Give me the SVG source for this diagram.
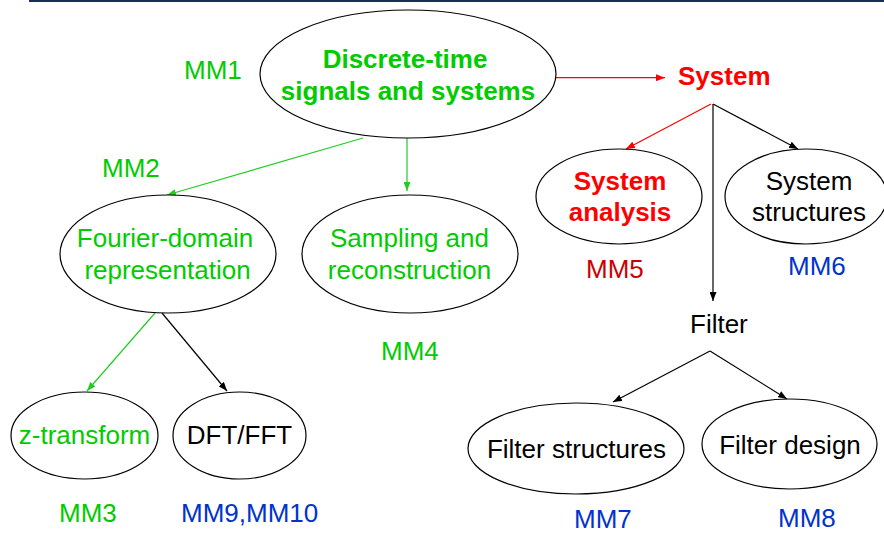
<svg xmlns="http://www.w3.org/2000/svg" width="884" height="535" viewBox="0 0 884 535">
<defs>
<style>
text{font-family:"Liberation Sans",Arial,sans-serif;font-size:26px}
.b{font-weight:bold}
.m{text-anchor:middle}
.g{fill:#00cc00}
.r{fill:#ff0000}
.dr{fill:#cc0000}
.bl{fill:#0033cc}
.k{fill:#000}
ellipse{fill:#fff;stroke:#000;stroke-width:1.2}
.cg{stroke:#22cc22;stroke-width:1.2;fill:none}
.cr{stroke:#ff0000;stroke-width:1.2;fill:none}
.ck{stroke:#000;stroke-width:1.2;fill:none}
</style>
<marker id="ag" markerUnits="userSpaceOnUse" markerWidth="9" markerHeight="7" refX="9" refY="3.5" orient="auto"><path d="M0,0 L9,3.5 L0,7 z" fill="#22cc22"/></marker>
<marker id="ar" markerUnits="userSpaceOnUse" markerWidth="9" markerHeight="7" refX="9" refY="3.5" orient="auto"><path d="M0,0 L9,3.5 L0,7 z" fill="#ff0000"/></marker>
<marker id="ak" markerUnits="userSpaceOnUse" markerWidth="9" markerHeight="7" refX="9" refY="3.5" orient="auto"><path d="M0,0 L9,3.5 L0,7 z" fill="#000"/></marker>
</defs>
<rect width="884" height="535" fill="#fff"/>
<line x1="29" y1="1" x2="884" y2="1" stroke="#1c2a5c" stroke-width="2"/>

<g id="connectors">
<line class="cr" x1="555" y1="77.7" x2="665" y2="77.7" marker-end="url(#ar)"/>
<line class="cg" x1="363" y1="138" x2="167" y2="195" marker-end="url(#ag)"/>
<line class="cg" x1="407" y1="138" x2="407" y2="191" marker-end="url(#ag)"/>
<line class="cg" x1="155" y1="313" x2="87" y2="391" marker-end="url(#ag)"/>
<line class="ck" x1="162" y1="313" x2="227" y2="391" marker-end="url(#ak)"/>
<line class="cr" x1="711" y1="104" x2="626" y2="149" marker-end="url(#ar)"/>
<line class="ck" x1="713" y1="104" x2="798" y2="149" marker-end="url(#ak)"/>
<line class="ck" x1="713" y1="104" x2="713" y2="301" marker-end="url(#ak)"/>
<line class="ck" x1="710" y1="351" x2="613" y2="402" marker-end="url(#ak)"/>
<line class="ck" x1="710" y1="351" x2="787" y2="399" marker-end="url(#ak)"/>
</g>

<g id="dts">
<ellipse cx="408" cy="74" rx="148" ry="64"/>
<text class="b m g" x="405" y="68">Discrete-time</text>
<text class="b m g" x="408" y="100">signals and systems</text>
</g>
<g id="mm1"><text class="g" x="184" y="79">MM1</text></g>

<g id="system"><text class="b r" x="678" y="85">System</text></g>

<g id="mm2"><text class="g" x="102" y="177">MM2</text></g>

<g id="fourier">
<ellipse cx="168" cy="254" rx="108" ry="59"/>
<text class="m g" x="165" y="247">Fourier-domain</text>
<text class="m g" x="167.5" y="279">representation</text>
</g>

<g id="sampling">
<ellipse cx="410" cy="254" rx="108" ry="59"/>
<text class="m g" x="409.5" y="247">Sampling and</text>
<text class="m g" x="409.5" y="279">reconstruction</text>
</g>
<g id="mm4"><text class="g" x="381" y="360">MM4</text></g>

<g id="sysanalysis">
<ellipse cx="619" cy="196.5" rx="83" ry="47.5"/>
<text class="b m r" x="620" y="190">System</text>
<text class="b m r" x="620" y="221">analysis</text>
</g>
<g id="mm5"><text class="dr" x="586" y="278">MM5</text></g>

<g id="sysstruct">
<ellipse cx="806" cy="196.5" rx="81" ry="47.5"/>
<text class="m k" x="809" y="190">System</text>
<text class="m k" x="809" y="221">structures</text>
</g>
<g id="mm6"><text class="bl" x="788" y="275">MM6</text></g>

<g id="filter"><text class="k" x="690" y="333">Filter</text></g>

<g id="ztrans">
<ellipse cx="84.5" cy="435.5" rx="73.5" ry="43.5"/>
<text class="m g" x="84.5" y="444">z-transform</text>
</g>
<g id="mm3"><text class="g" x="59" y="522">MM3</text></g>

<g id="dft">
<ellipse cx="239.5" cy="435.5" rx="66.5" ry="43.5"/>
<text class="m k" x="239.5" y="444">DFT/FFT</text>
</g>
<g id="mm910"><text class="bl" x="181" y="522">MM9,MM10</text></g>

<g id="filtstruct">
<ellipse cx="576" cy="448.5" rx="108" ry="45.5"/>
<text class="m k" x="576.5" y="458">Filter structures</text>
</g>
<g id="mm7"><text class="bl" x="574" y="528">MM7</text></g>

<g id="filtdesign">
<ellipse cx="789.5" cy="444" rx="87.5" ry="45"/>
<text class="m k" x="790" y="454">Filter design</text>
</g>
<g id="mm8"><text class="bl" x="778" y="527">MM8</text></g>
</svg>
